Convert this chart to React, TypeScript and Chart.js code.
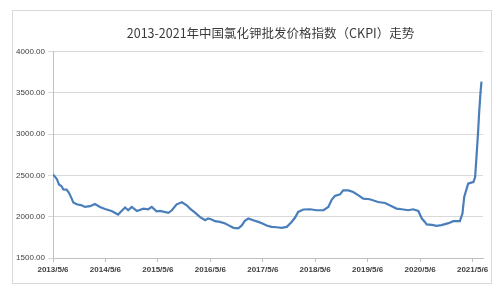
import React, { useEffect, useRef } from "react";
import { Chart, registerables } from "chart.js";

Chart.register(...registerables);

const TITLE = "2013-2021年中国氯化钾批发价格指数（CKPI）走势";

// tick labels for the x axis (one per year, every 12 months)
const yearLabels = [
  "2013/5/6", "2014/5/6", "2015/5/6", "2016/5/6", "2017/5/6",
  "2018/5/6", "2019/5/6", "2020/5/6", "2021/5/6",
];

// months elapsed since 2013/5/6
const months = [
  0, 0.85, 1.37, 2.0, 2.36, 3.1, 3.66, 4.28, 4.65, 5.42, 6.57, 7.3, 8.47, 9.6,
  10.75, 11.9, 13.4, 14.9, 15.7, 16.5, 17.2, 18.0, 19.2, 20.7, 21.8, 22.6, 23.7,
  24.5, 26.4, 27.2, 28.3, 29.5, 30.6, 31.35, 32.5, 33.6, 34.8, 35.5, 36.3, 37.1,
  38.2, 39.4, 40.1, 41.3, 42.4, 43.2, 43.9, 44.7, 45.8, 47.0, 47.8, 48.9, 50.0,
  51.2, 52.3, 53.5, 54.6, 55.4, 56.1, 57.3, 58.8, 60.3, 61.9, 63.0, 63.8, 64.5,
  65.7, 66.4, 67.6, 68.7, 69.9, 71.0, 72.5, 74.4, 76.0, 77.5, 78.6, 79.8, 81.3,
  82.4, 83.6, 84.4, 85.1, 85.5, 86.7, 87.8, 88.9, 90.5, 91.6, 93.1, 93.7, 94.1,
  95.0, 95.7, 96.2, 96.6, 96.95, 97.25, 97.5, 97.8, 98.05,
];

// CKPI values
const ckpi = [
  2512, 2460, 2390, 2367, 2330, 2328, 2290, 2219, 2171, 2150, 2138, 2118, 2127, 2154,
  2118, 2094, 2070, 2026, 2070, 2111, 2078, 2118, 2070, 2098, 2090, 2118, 2066,
  2070, 2046, 2078, 2150, 2175, 2138, 2098, 2050, 1998, 1958, 1978, 1966, 1946,
  1937, 1918, 1898, 1865, 1858, 1894, 1950, 1978, 1958, 1937, 1920, 1894, 1877,
  1872, 1865, 1877, 1937, 1990, 2058, 2087, 2090, 2078, 2078, 2118, 2207, 2251,
  2271, 2319, 2319, 2299, 2259, 2219, 2211, 2178, 2166, 2127, 2098, 2090, 2078,
  2090, 2070, 1978, 1937, 1906, 1901, 1889, 1898, 1922, 1946, 1946, 2038, 2239,
  2400, 2412, 2420, 2480, 2761, 3002, 3243, 3484, 3636,
];

const W = 499;
const H = 290;

const framePlugin = {
  id: "frame",
  beforeDraw(chart: any) {
    const ctx = chart.ctx;
    ctx.save();
    ctx.fillStyle = "#ffffff";
    ctx.fillRect(0, 0, W, H);
    ctx.strokeStyle = "#d9d9d9";
    ctx.lineWidth = 1;
    ctx.strokeRect(12.5, 10.5, 479, 273);
    ctx.restore();
  },
  afterDraw(chart: any) {
    const ctx = chart.ctx;
    ctx.save();
    ctx.fillStyle = "#3a3a3a";
    ctx.font = '12.5px "Noto Sans CJK SC", "Noto Sans", sans-serif';
    ctx.textAlign = "center";
    ctx.textBaseline = "middle";
    ctx.fillText(TITLE, 270.5, 33);
    ctx.restore();
  },
};

export default function App() {
  const ref = useRef<HTMLCanvasElement | null>(null);

  useEffect(() => {
    if (!ref.current) return;
    const points = months.map((m, i) => ({ x: m, y: ckpi[i] }));
    const chart = new Chart(ref.current, {
      type: "line",
      data: {
        datasets: [
          {
            data: points,
            borderColor: "#4a7ebb",
            borderWidth: 2.2,
            pointRadius: 0,
            tension: 0,
            fill: false,
          },
        ],
      },
      options: {
        responsive: false,
        animation: false,
        layout: { padding: { left: 0, right: 16, top: 51.5, bottom: 0 } },
        plugins: {
          legend: { display: false },
          title: { display: false },
          tooltip: { enabled: false },
        },
        scales: {
          x: {
            type: "linear",
            min: 0,
            max: 98.4,
            afterFit(scale: any) {
              scale.height = 32;
            },
            grid: {
              drawOnChartArea: false,
              drawTicks: true,
              tickLength: 4,
              color: "#bfbfbf",
            },
            border: { display: true, color: "#bfbfbf", width: 1 },
            ticks: {
              stepSize: 12,
              includeBounds: false,
              autoSkip: false,
              maxRotation: 0,
              padding: 3,
              color: "#404040",
              font: { family: '"Liberation Sans", Arial, sans-serif', size: 8, weight: "bold" },
              callback: (v: any) => {
                const idx = Number(v) / 12;
                if (!Number.isInteger(idx)) return null;
                return yearLabels[idx] ?? null;
              },
            },
          },
          y: {
            min: 1500,
            max: 4000,
            afterFit(scale: any) {
              scale.width = 53;
            },
            grid: {
              color: "#d9d9d9",
              drawTicks: true,
              tickLength: 5,
            },
            border: { display: true, color: "#bfbfbf", width: 1 },
            ticks: {
              stepSize: 500,
              padding: 3,
              color: "#404040",
              font: { family: '"Liberation Sans", Arial, sans-serif', size: 8 },
              callback: (v: any) => Number(v).toFixed(2),
            },
          },
        },
      },
      plugins: [framePlugin],
    });
    return () => chart.destroy();
  }, []);

  return (
    <div style={{ position: "fixed", left: 0, top: 0, width: W, height: H, background: "#fff" }}>
      <canvas ref={ref} width={W} height={H} style={{ width: W, height: H, display: "block" }} />
    </div>
  );
}
